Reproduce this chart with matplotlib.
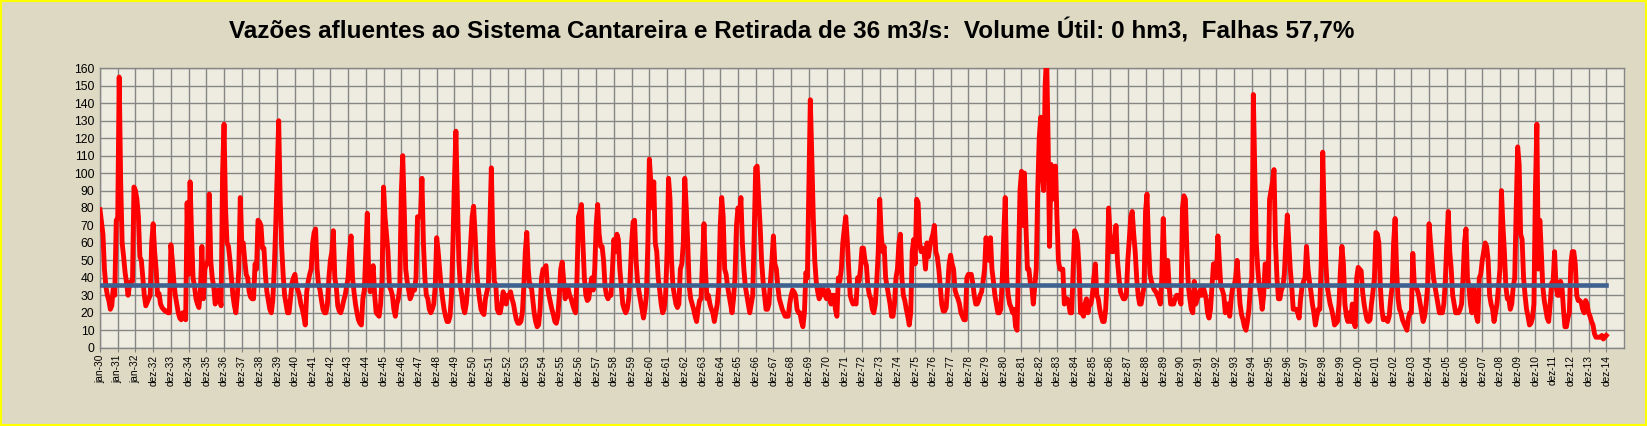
import numpy as np
import matplotlib.pyplot as plt
from matplotlib.patches import Rectangle

# vazões mensais (m3/s); cada linha = 12 meses até o rótulo indicado
q_1930s = [79,
    72, 65, 45, 35, 30, 27, 22, 24, 35, 30, 73, 74,        # jan-31
    155, 95, 60, 52, 43, 37, 30, 36, 38, 38, 92, 90,       # jan-32
    85, 75, 52, 50, 40, 30, 24, 26, 28, 30, 60, 71,        # dez-32
    55, 45, 30, 31, 25, 23, 22, 21, 21, 20, 20, 59,        # dez-33
    50, 38, 30, 25, 20, 17, 16, 20, 18, 16, 83, 42,        # dez-34
    95, 65, 40, 35, 28, 25, 23, 33, 58, 28, 45, 48,        # dez-35
    48, 88, 50, 40, 35, 25, 28, 33, 30, 24, 100, 128,      # dez-36
    80, 60, 58, 50, 40, 30, 24, 20, 30, 45, 86, 60,        # dez-37
    60, 50, 42, 40, 32, 29, 28, 28, 48, 45, 73, 72,        # dez-38
    70, 57, 57, 42, 32, 27, 22, 20, 27, 45, 70, 100]       # dez-39
q_1940s = [
    130, 85, 58, 42, 30, 25, 20, 20, 28, 37, 40, 42,
    35, 33, 30, 25, 22, 18, 13, 32, 38, 42, 45, 60,
    66, 68, 45, 36, 33, 27, 22, 20, 20, 25, 40, 50,
    55, 67, 40, 35, 24, 21, 20, 23, 27, 30, 35, 40,
    55, 64, 40, 32, 25, 20, 16, 14, 13, 28, 33, 55,
    77, 40, 32, 40, 47, 30, 20, 19, 18, 25, 40, 92,
    75, 65, 55, 35, 33, 30, 22, 18, 25, 28, 35, 88,
    110, 80, 45, 38, 33, 28, 30, 35, 33, 40, 75, 75,
    75, 97, 60, 40, 30, 28, 22, 20, 22, 25, 35, 63,
    55, 45, 35, 28, 22, 18, 15, 15, 18, 30, 60, 95]
q_1950s = [
    124, 85, 50, 35, 30, 23, 20, 25, 35, 45, 60, 75,
    81, 65, 45, 35, 28, 22, 20, 19, 28, 32, 36, 70,
    103, 60, 38, 36, 22, 20, 20, 25, 32, 28, 25, 30,
    30, 32, 28, 25, 20, 16, 14, 14, 15, 20, 35, 55,
    66, 45, 35, 36, 28, 20, 15, 12, 13, 22, 40, 45,
    45, 47, 35, 30, 26, 22, 19, 15, 14, 18, 30, 45,
    49, 38, 28, 33, 34, 30, 28, 25, 22, 20, 40, 75,
    78, 82, 60, 40, 30, 27, 28, 35, 40, 33, 45, 70,
    82, 65, 58, 58, 50, 35, 30, 28, 30, 30, 45, 62,
    55, 65, 62, 45, 35, 25, 22, 20, 22, 28, 40, 60]
q_1960s = [
    72, 73, 50, 38, 32, 27, 22, 17, 22, 30, 60, 108,
    95, 80, 95, 60, 55, 40, 33, 25, 20, 22, 30, 55,
    97, 85, 50, 35, 30, 25, 23, 25, 45, 48, 60, 97,
    80, 60, 35, 28, 25, 22, 18, 15, 22, 27, 28, 50,
    71, 45, 28, 30, 25, 22, 20, 15, 20, 25, 35, 70,
    86, 75, 45, 42, 35, 30, 25, 20, 28, 40, 70, 80,
    75, 86, 60, 45, 35, 30, 25, 20, 25, 30, 65, 103,
    104, 85, 70, 50, 38, 30, 22, 22, 25, 38, 50, 64,
    48, 45, 35, 28, 25, 22, 20, 18, 18, 18, 25, 30,
    33, 32, 30, 22, 20, 20, 15, 12, 20, 43, 40, 90]
q_1970s = [
    142, 110, 75, 50, 38, 32, 28, 30, 35, 33, 30, 28,
    33, 30, 25, 30, 30, 22, 18, 40, 38, 45, 60, 68,
    75, 62, 45, 30, 27, 25, 26, 25, 40, 38, 45, 57,
    57, 50, 47, 35, 30, 28, 22, 20, 25, 38, 55, 85,
    65, 55, 58, 40, 35, 30, 25, 18, 18, 25, 40, 45,
    60, 65, 40, 30, 27, 22, 18, 13, 20, 55, 62, 48,
    85, 83, 60, 55, 57, 55, 45, 60, 52, 58, 62, 65,
    70, 55, 52, 45, 35, 25, 21, 21, 23, 35, 48, 53,
    48, 45, 33, 30, 28, 25, 20, 18, 16, 16, 40, 42,
    42, 42, 37, 30, 25, 25, 27, 30, 32, 38, 45, 63]
q_1980s = [
    55, 50, 63, 45, 38, 30, 25, 20, 20, 22, 40, 65,
    86, 40, 30, 25, 23, 20, 22, 12, 10, 50, 90, 101,
    70, 100, 70, 45, 45, 37, 35, 25, 35, 45, 90, 120,
    132, 100, 90, 150, 168, 120, 58, 105, 85, 95, 104, 75,
    50, 45, 45, 45, 25, 28, 28, 25, 20, 20, 45, 67,
    65, 60, 45, 20, 20, 18, 25, 28, 20, 25, 25, 30,
    40, 48, 30, 28, 22, 18, 15, 15, 22, 40, 80, 65,
    55, 55, 60, 70, 50, 40, 32, 30, 28, 28, 30, 50,
    62, 75, 78, 65, 55, 40, 30, 25, 25, 30, 35, 78,
    88, 60, 42, 38, 35, 33, 32, 30, 28, 25, 40, 74]
q_1990s = [
    45, 35, 50, 35, 25, 25, 25, 28, 30, 30, 28, 25,
    80, 87, 85, 55, 35, 28, 22, 20, 38, 25, 28, 30,
    33, 30, 35, 32, 28, 20, 17, 22, 35, 48, 48, 40,
    64, 50, 35, 33, 30, 20, 25, 25, 18, 28, 35, 35,
    40, 50, 37, 25, 19, 16, 12, 10, 15, 22, 35, 40,
    145, 100, 60, 45, 35, 30, 22, 30, 48, 48, 35, 85,
    90, 95, 102, 60, 40, 28, 28, 33, 35, 42, 60, 76,
    60, 45, 35, 22, 22, 22, 20, 17, 28, 35, 38, 40,
    58, 45, 38, 32, 25, 20, 13, 18, 22, 22, 50, 112,
    75, 50, 35, 30, 25, 22, 18, 13, 14, 15, 25, 45]
q_2000s = [
    58, 48, 25, 18, 15, 20, 15, 25, 15, 12, 40, 46,
    45, 44, 32, 25, 20, 16, 15, 16, 25, 32, 40, 66,
    65, 60, 35, 22, 16, 17, 16, 15, 18, 28, 35, 60,
    74, 45, 28, 22, 20, 16, 14, 12, 10, 17, 20, 20,
    54, 36, 35, 33, 30, 25, 20, 15, 18, 25, 35, 71,
    60, 50, 40, 35, 30, 25, 20, 20, 20, 25, 38, 60,
    78, 55, 45, 30, 25, 20, 20, 20, 22, 25, 40, 60,
    68, 40, 35, 25, 20, 35, 30, 18, 15, 40, 42, 50,
    55, 60, 58, 50, 30, 25, 22, 15, 20, 25, 35, 45,
    90, 70, 55, 35, 28, 28, 22, 25, 35, 40, 80, 115]
q_2010s = [
    105, 65, 62, 40, 30, 22, 18, 13, 14, 17, 25, 90,
    128, 45, 73, 55, 35, 27, 22, 17, 15, 25, 37, 38,
    55, 35, 30, 30, 38, 35, 22, 12, 12, 17, 20, 48,
    55, 55, 48, 30, 27, 27, 26, 22, 20, 27, 25, 20,
    18, 15, 13, 8, 6, 6, 6, 6, 7, 5, 6, 7]

retirada = 36  # m3/s
tick_labels = ['jan-30', 'jan-31', 'jan-32'] + ['dez-%02d' % (a % 100) for a in range(1932, 2015)]
titulo = u'Vazões afluentes ao Sistema Cantareira e Retirada de 36 m3/s:  Volume Útil: 0 hm3,  Falhas 57,7%'

vazoes = np.array(q_1930s + q_1940s + q_1950s + q_1960s + q_1970s
                  + q_1980s + q_1990s + q_2000s + q_2010s, dtype=float)
meses = np.arange(len(vazoes))

plt.rcParams['font.family'] = ['Liberation Sans', 'DejaVu Sans']

fig = plt.figure(figsize=(16.47, 4.26), dpi=100, facecolor='#DDD9C3')
ax = fig.add_axes([100 / 1647, 1 - 347.7 / 426, 1524 / 1647, 279.4 / 426])
ax.set_facecolor('#EEECE1')

ax.plot(meses, vazoes, color='#FF0000', lw=3.5, solid_joinstyle='round', zorder=3)
ax.plot(meses, np.full(len(meses), retirada), color='#3F6190', lw=3.3, zorder=4)

ax.set_xlim(0, len(meses) + 11)
ax.set_ylim(0, 160)
ax.set_xticks(np.arange(len(tick_labels)) * 12)
ax.set_xticklabels(tick_labels, rotation=90, fontsize=7.3)
ax.set_yticks(np.arange(0, 161, 10))
ax.tick_params(axis='y', labelsize=8.7, length=0, pad=4)
ax.tick_params(axis='x', length=3, color='#808080', pad=2)
ax.grid(True, color='#868686', lw=1.0, zorder=0)
ax.set_axisbelow(True)
for s in ax.spines.values():
    s.set_color('#868686')
    s.set_linewidth(1.0)

# titulo em fonte estreita, ajustado para a largura do original
try:
    from matplotlib import font_manager
    font_manager.findfont('Liberation Sans Narrow', fallback_to_default=False)
    fam = ['Liberation Sans Narrow', 'DejaVu Sans']
except Exception:
    fam = ['Liberation Sans', 'DejaVu Sans']
t = fig.text(792 / 1647, 1 - 31 / 426, titulo, ha='center', va='center',
             fontsize=17, fontweight='bold', family=fam)
r = fig.canvas.get_renderer()
w = t.get_window_extent(r).width
t.set_fontsize(17 * 1126 / w)

# moldura amarela
fig.patches.append(Rectangle((0, 0), 1, 1, transform=fig.transFigure, fill=False,
                             edgecolor='#FFFF00', lw=3, zorder=10))

fig.savefig('out.png', dpi=100, facecolor=fig.get_facecolor())
